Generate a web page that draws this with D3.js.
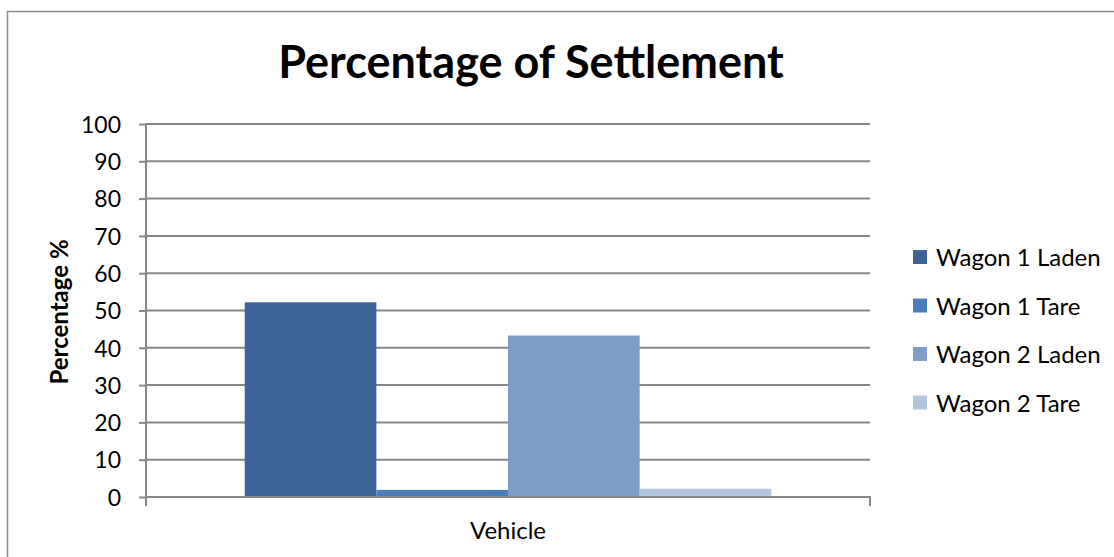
<!DOCTYPE html>
<html><head><meta charset="utf-8">
<script src="https://cdn.jsdelivr.net/npm/d3@7"></script>
<style>body{margin:0;background:#fff}svg{display:block}</style>
</head><body>
<svg id="c" width="1114" height="557" font-family="Lato, 'Open Sans', sans-serif"></svg>
<script>
const categories = ["Vehicle"];
const seriesNames = ["Wagon 1 Laden","Wagon 1 Tare","Wagon 2 Laden","Wagon 2 Tare"];
const seriesValues = [52.2, 1.9, 43.3, 2.2];
const seriesColors = ["#3C6496","#4A7EBB","#7E9CC8","#B3C4DE"];
const yTicks = [0,10,20,30,40,50,60,70,80,90,100];

const svg = d3.select("#c");
// outer chart border
svg.append("rect").attr("x",7.5).attr("y",11.5).attr("width",1120).attr("height",560)
  .attr("fill","#fff").attr("stroke","#8c8c8c").attr("stroke-width",1.5);

const L=146, R=870, T=124, B=497;
const y = d3.scaleLinear().domain([0,100]).range([B,T]);
const x0 = d3.scaleBand().domain(categories).range([L,R]);
// Excel gap width 150% -> 0.75 bar of outer padding on each side
const x1 = d3.scaleBand().domain(seriesNames).range([0,x0.bandwidth()]).paddingOuter(0.75).paddingInner(0);

// gridlines
svg.append("g").selectAll("line").data(yTicks).join("line")
  .attr("x1",L).attr("x2",R).attr("y1",d=>y(d)).attr("y2",d=>y(d))
  .attr("stroke","#868686").attr("stroke-width",2);

// bars
const g = svg.append("g");
categories.forEach(c=>{
  g.selectAll("rect.b").data(seriesNames).join("rect").attr("class","b")
    .attr("x",(d)=>x0(c)+x1(d)).attr("width",x1.bandwidth())
    .attr("y",(d,i)=>y(seriesValues[i])).attr("height",(d,i)=>B-y(seriesValues[i]))
    .attr("fill",(d,i)=>seriesColors[i]);
});

// y axis
const ya = svg.append("g").attr("transform",`translate(${L},0)`)
  .call(d3.axisLeft(y).tickValues(yTicks).tickSize(7).tickPadding(18));
ya.select(".domain").attr("stroke","#868686").attr("stroke-width",2).attr("d",`M0,${T}V${B+9}`);
ya.selectAll(".tick line").attr("stroke","#868686").attr("stroke-width",2);
ya.selectAll(".tick text").attr("font-size",23).attr("fill","#000")
  .attr("font-family","Lato, sans-serif").attr("dy","0.36em");

// x axis
const xa = svg.append("g").attr("transform",`translate(0,${B})`)
  .call(d3.axisBottom(x0).tickSize(0).tickFormat(()=>""));
xa.select(".domain").attr("stroke","#868686").attr("stroke-width",2).attr("d",`M${L},9V0H${R}V9`);
svg.append("text").attr("x",(L+R)/2).attr("y",539).attr("text-anchor","middle")
  .attr("font-size",24).text(categories[0]);

// title
svg.append("text").attr("x",531).attr("y",78).attr("text-anchor","middle")
  .attr("font-size",45).attr("font-weight","bold").text("Percentage of Settlement");

// y title
svg.append("text").attr("transform","translate(68,312) rotate(-90)").attr("text-anchor","middle")
  .attr("font-size",24).attr("font-weight","bold").text("Percentage %");

// legend
const lg = svg.append("g");
seriesNames.forEach((s,i)=>{
  const yy = 257 + i*48.5;
  lg.append("rect").attr("x",913).attr("y",yy-7).attr("width",14).attr("height",14).attr("fill",seriesColors[i]);
  lg.append("text").attr("x",936).attr("y",yy+9).attr("font-size",24).text(s);
});
</script>
</body></html>
